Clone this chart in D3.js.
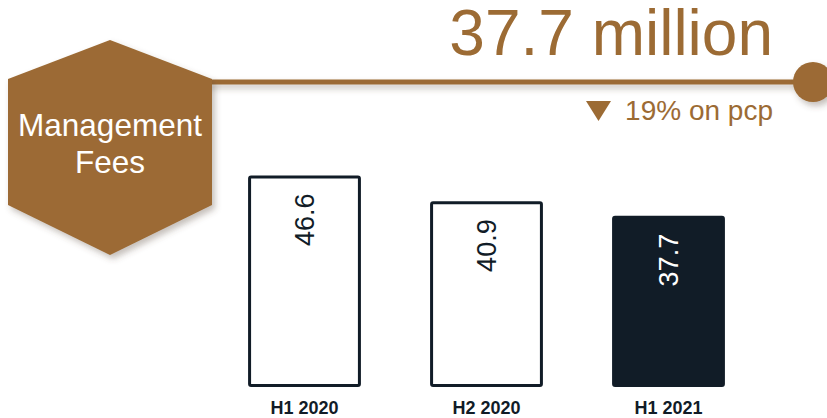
<!DOCTYPE html>
<html>
<head>
<meta charset="utf-8">
<script src="https://cdn.jsdelivr.net/npm/d3@7"></script>
<style>
  html, body { margin: 0; padding: 0; background: #ffffff; }
  svg { display: block; font-family: "Liberation Sans", Arial, sans-serif; }
</style>
</head>
<body>
<svg id="chart" width="827" height="418"></svg>
<script>
// ---- data ----
const categories = ["H1 2020", "H2 2020", "H1 2021"];
const values = [46.6, 40.9, 37.7];
const highlighted = [false, false, true];
const headline = "37.7 million";
const changeText = "19% on pcp";
const titleLines = ["Management", "Fees"];

// ---- style ----
const brown = "#9c6b34";
const navy = "#111c27";

const svg = d3.select("#chart");
const defs = svg.append("defs");
const f = defs.append("filter").attr("id", "shadow")
  .attr("filterUnits", "userSpaceOnUse")
  .attr("x", 0).attr("y", 0).attr("width", 827).attr("height", 418);
f.append("feDropShadow").attr("dx", 3).attr("dy", 4).attr("stdDeviation", 3)
  .attr("flood-color", "#5a4a3a").attr("flood-opacity", 0.35);

// connector line + dot
const lineY = 82;
svg.append("rect").attr("x", 205).attr("width", 812 - 205)
  .attr("y", lineY - 2.5).attr("height", 5)
  .attr("fill", brown).attr("filter", "url(#shadow)");
svg.append("circle").attr("cx", 813).attr("cy", lineY).attr("r", 20)
  .attr("fill", brown).attr("filter", "url(#shadow)");

// hexagon
const hex = [[110, 40], [212, 79], [212, 205], [110, 255], [8, 205], [8, 79]];
svg.append("path").attr("d", d3.line()(hex) + "Z")
  .attr("fill", brown).attr("filter", "url(#shadow)");
svg.selectAll("text.title").data(titleLines).join("text")
  .attr("class", "title")
  .attr("x", 110).attr("y", (d, i) => 136 + i * 37)
  .attr("text-anchor", "middle").attr("fill", "#ffffff")
  .attr("font-size", 31.5).text(d => d);

// headline
svg.append("text").attr("x", 773).attr("y", 55).attr("text-anchor", "end")
  .attr("fill", brown).attr("font-size", 64).text(headline);
svg.append("path").attr("d", "M586,101 L611,101 L598.5,121 Z").attr("fill", brown);
svg.append("text").attr("x", 773).attr("y", 120).attr("text-anchor", "end")
  .attr("fill", brown).attr("font-size", 28).text(changeText);

// bars
const x = d3.scaleBand().domain(categories).range([213.5, 759.5])
  .paddingInner(0.38).paddingOuter(0.19);
const y = d3.scaleLinear().domain([0, 50]).range([387, 387 - 227]);
const sw = 3;

const g = svg.append("g");
g.selectAll("rect.bar").data(categories).join("rect")
  .attr("class", "bar")
  .attr("x", d => x(d) + sw / 2)
  .attr("y", (d, i) => y(values[i]) + sw / 2)
  .attr("width", x.bandwidth() - sw)
  .attr("height", (d, i) => y(0) - y(values[i]) - sw)
  .attr("rx", 1.5)
  .attr("fill", (d, i) => highlighted[i] ? navy : "#ffffff")
  .attr("stroke", navy).attr("stroke-width", sw);

g.selectAll("text.val").data(categories).join("text")
  .attr("class", "val")
  .attr("transform", (d, i) => `translate(${x(d) + x.bandwidth() / 2},${y(values[i]) + 18}) rotate(-90)`)
  .attr("text-anchor", "end").attr("dy", "0.35em")
  .attr("font-size", 27)
  .attr("fill", (d, i) => highlighted[i] ? "#ffffff" : navy)
  .text((d, i) => values[i].toFixed(1));

// category axis labels
const axis = d3.axisBottom(x).tickSize(0).tickPadding(0);
const ax = svg.append("g").attr("transform", "translate(0,414)").call(axis);
ax.select(".domain").remove();
ax.selectAll("text").attr("font-size", 18).attr("font-weight", "bold")
  .attr("fill", navy).attr("font-family", "Liberation Sans, Arial, sans-serif")
  .attr("dy", 0);
</script>
</body>
</html>
